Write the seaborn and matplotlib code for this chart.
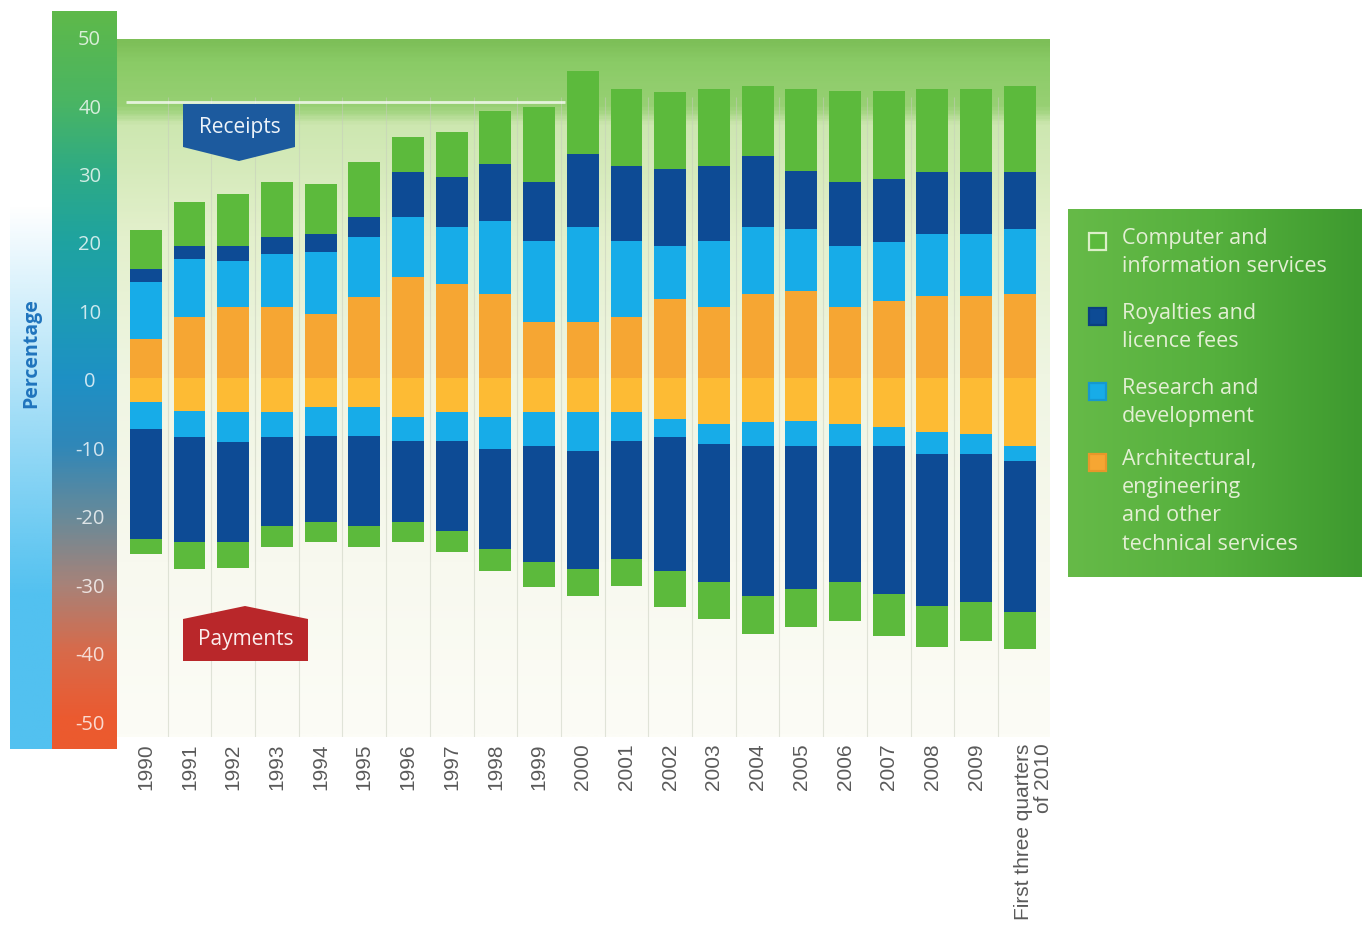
import numpy as np
import pandas as pd
import matplotlib
matplotlib.use('Agg')
import matplotlib.pyplot as plt
import matplotlib.transforms as mtransforms
import seaborn as sns
from matplotlib.colors import LinearSegmentedColormap, to_rgba
from matplotlib.patches import Polygon, Rectangle

# ---- data (percent of total) ----
years = ['1990', '1991', '1992', '1993', '1994', '1995', '1996', '1997', '1998', '1999',
         '2000', '2001', '2002', '2003', '2004', '2005', '2006', '2007', '2008', '2009',
         'First three quarters\nof 2010']

# receipts, stacked upwards
rec_arch = [5.7, 8.9, 10.4, 10.4, 9.3, 11.8, 14.7, 13.7, 12.3, 8.2, 8.2,
            8.9, 11.5, 10.4, 12.3, 12.7, 10.4, 11.2, 12.0, 12.0, 12.3]
rec_rd = [8.3, 8.5, 6.7, 7.7, 9.1, 8.8, 8.8, 8.3, 10.6, 11.8, 13.8,
          11.1, 7.8, 9.6, 9.7, 9.1, 8.9, 8.7, 9.0, 9.0, 9.5]
rec_roy = [1.9, 1.9, 2.2, 2.5, 2.6, 2.9, 6.6, 7.3, 8.3, 8.6, 10.7,
           10.9, 11.2, 10.9, 10.4, 8.4, 9.3, 9.2, 9.1, 9.1, 8.3]
rec_comp = [5.7, 6.4, 7.6, 8.0, 7.3, 8.0, 5.1, 6.6, 7.8, 11.0, 12.1,
            11.3, 11.3, 11.3, 10.2, 12.0, 13.3, 12.8, 12.1, 12.1, 12.5]

# payments, stacked downwards
pay_arch = [3.5, 4.8, 5.0, 5.0, 4.2, 4.2, 5.7, 5.0, 5.7, 5.0, 5.0,
            5.0, 6.0, 6.7, 6.4, 6.3, 6.7, 7.2, 7.9, 8.2, 9.9]
pay_rd = [3.9, 3.8, 4.3, 3.6, 4.3, 4.3, 3.5, 4.2, 4.7, 4.9, 5.7,
          4.2, 2.6, 2.9, 3.5, 3.6, 3.2, 2.7, 3.2, 2.9, 2.2]
pay_roy = [16.1, 15.3, 14.6, 13.0, 12.5, 13.1, 11.8, 13.1, 14.6, 17.0, 17.2,
           17.2, 19.6, 20.2, 21.9, 20.9, 19.9, 21.6, 22.2, 21.6, 22.1]
pay_comp = [2.2, 4.0, 3.8, 3.1, 2.9, 3.1, 2.9, 3.1, 3.2, 3.6, 3.9,
            4.0, 5.2, 5.4, 5.6, 5.6, 5.7, 6.2, 6.0, 5.7, 5.4]

y_ticks = [50, 40, 30, 20, 10, 0, -10, -20, -30, -40, -50]

legend_labels = ['Computer and\ninformation services',
                 'Royalties and\nlicence fees',
                 'Research and\ndevelopment',
                 'Architectural,\nengineering\nand other\ntechnical services']

c_comp = '#5cba3c'
c_roy = '#0d4b95'
c_rd = '#17ace8'
c_arch = '#f6a633'
c_arch_neg = '#fdbb34'

df = pd.DataFrame({'year': years,
                   'rec_arch': rec_arch, 'rec_rd': rec_rd, 'rec_roy': rec_roy, 'rec_comp': rec_comp,
                   'pay_arch': pay_arch, 'pay_rd': pay_rd, 'pay_roy': pay_roy, 'pay_comp': pay_comp})

# cumulative tops so the layers can be overdrawn from the outside in
pos = df[['rec_arch', 'rec_rd', 'rec_roy', 'rec_comp']].cumsum(axis=1)
neg = -df[['pay_arch', 'pay_rd', 'pay_roy', 'pay_comp']].cumsum(axis=1)
for c in pos.columns:
    df['cum_' + c] = pos[c]
for c in neg.columns:
    df['cum_' + c] = neg[c]

W, H = 1368, 945
def fx(px):
    return px / W
def fy(py):
    return 1 - py / H

sns.set_theme(style='white')
plt.rcParams['font.family'] = ['Open Sans', 'DejaVu Sans']

fig = plt.figure(figsize=(W / 100, H / 100), dpi=100)
fig.patch.set_facecolor('white')

# ---- main plot ----
ax = fig.add_axes([fx(117), fy(738), (1050 - 117) / W, (738 - 40) / H])
ylo, yhi = -52.4, 49.5
xlo, xhi = -0.66, 20.69

# background gradient
bg = LinearSegmentedColormap.from_list('bg', [
    (0.0, '#fcfcf6'), (0.25, '#f8f9ef'), (0.52, '#eff5e2'), (0.72, '#e3f0cc'),
    (0.88, '#cde7b0'), (0.905, '#98d074'), (0.97, '#8acb66'), (1.0, '#7dbf58')])
grad = np.linspace(0, 1, 400).reshape(-1, 1)
ax.imshow(grad, cmap=bg, origin='lower', aspect='auto',
          extent=(xlo, xhi, ylo, yhi), zorder=0)

ax.vlines(np.arange(len(years) - 1) + 0.5, ylo, 41, color='#c6ccbc', lw=0.8, alpha=0.5, zorder=1)
ax.hlines(40.3, -0.45, 9.6, color='white', lw=2, alpha=0.75, zorder=1)

layers = [('cum_rec_comp', c_comp), ('cum_rec_roy', c_roy), ('cum_rec_rd', c_rd), ('cum_rec_arch', c_arch),
          ('cum_pay_comp', c_comp), ('cum_pay_roy', c_roy), ('cum_pay_rd', c_rd), ('cum_pay_arch', c_arch_neg)]
for col, colr in layers:
    sns.barplot(data=df, x='year', y=col, order=years, color=colr, saturation=1,
                width=0.73, errorbar=None, linewidth=0, ax=ax, zorder=2)

ax.set_xlim(xlo, xhi)
ax.set_ylim(ylo, yhi)
ax.set_xlabel('')
ax.set_ylabel('')
ax.set_yticks([])
ax.set_xticks(range(len(years)))
ax.set_xticklabels(years, rotation=90, fontsize=15, color='#5a5a5a',
                   family='Liberation Sans', multialignment='right', linespacing=1.05)
ax.tick_params(axis='x', length=0, pad=4)
# the two-line label sits a little right of its bar
last = ax.get_xticklabels()[-1]
last.set_transform(last.get_transform() + mtransforms.ScaledTranslation(0.14, 0, fig.dpi_scale_trans))
for s in ax.spines.values():
    s.set_visible(False)

# ---- coloured y scale strip ----
ax_s = fig.add_axes([fx(52), fy(750), 65 / W, (750 - 12) / H])
s_lo, s_hi = -54.2, 53.6
strip = LinearSegmentedColormap.from_list('strip', [
    (0.0, '#ec5a2e'), (0.04, '#eb5a30'), (0.13, '#d86a4a'), (0.22, '#a88278'),
    (0.31, '#6a8a98'), (0.41, '#3087b8'), (0.50, '#1e90c5'), (0.59, '#1c9bb5'),
    (0.69, '#1fa3a0'), (0.78, '#2daa86'), (0.88, '#4ab563'), (1.0, '#5eb94a')])
ax_s.imshow(grad, cmap=strip, origin='lower', aspect='auto', extent=(0, 1, s_lo, s_hi))
ax_s.set_xlim(0, 1)
ax_s.set_ylim(s_lo, s_hi)
for t in y_ticks:
    ax_s.text(0.58, t - 0.5, str(t), ha='center', va='center', fontsize=14.5,
              color='white', alpha=0.78)
ax_s.axis('off')

# outer light blue strip with the axis title
ax_p = fig.add_axes([fx(10), fy(750), 42 / W, (750 - 12) / H])
blue = np.zeros((400, 1, 4))
blue[:, 0, :3] = to_rgba('#52c1f0')[:3]
blue[:, 0, 3] = np.clip(np.linspace(1.4, -0.5, 400), 0, 1)
ax_p.imshow(blue, origin='lower', aspect='auto', extent=(0, 1, 0, 1))
ax_p.set_xlim(0, 1)
ax_p.set_ylim(0, 1)
ax_p.axis('off')
fig.text(fx(31), fy(353), 'Percentage', rotation=90, ha='center', va='center',
         fontsize=14, fontweight='bold', color='#1f74bd')

# ---- banners ----
rec_poly = [(183, 105), (295, 105), (295, 148), (239, 162), (183, 148)]
pay_poly = [(183, 620), (245, 607), (308, 620), (308, 662), (183, 662)]
fig.patches.append(Polygon([(fx(x), fy(y)) for x, y in rec_poly], closed=True,
                           transform=fig.transFigure, facecolor='#1c5a9e', edgecolor='none', zorder=5))
fig.patches.append(Polygon([(fx(x), fy(y)) for x, y in pay_poly], closed=True,
                           transform=fig.transFigure, facecolor='#b9272a', edgecolor='none', zorder=5))
fig.text(fx(240), fy(128), 'Receipts', ha='center', va='center', fontsize=15, color='#eef4fa', zorder=6)
fig.text(fx(246), fy(640), 'Payments', ha='center', va='center', fontsize=15, color='#fbeeee', zorder=6)

# ---- legend panel ----
ax_l = fig.add_axes([fx(1068), fy(578), 294 / W, 368 / H])
lg = LinearSegmentedColormap.from_list('lg', ['#66ba48', '#55b03d', '#3e9a2f'])
ax_l.imshow(np.linspace(0, 1, 300).reshape(1, -1), cmap=lg, aspect='auto', extent=(0, 294, 368, 0))
ax_l.set_xlim(0, 294)
ax_l.set_ylim(368, 0)
ax_l.axis('off')
sq_y = [32, 107, 182, 253]
sq_fc = [c_comp, c_roy, c_rd, c_arch]
sq_ec = ['#dcefc8', '#0a3f80', '#1598d0', '#e8972a']
for yy, fc, ec, lab in zip(sq_y, sq_fc, sq_ec, legend_labels):
    ax_l.add_patch(Rectangle((21, yy - 8.5), 17, 17, facecolor=fc, edgecolor=ec, lw=1.6))
    ax_l.text(54, yy - 14, lab, ha='left', va='top', fontsize=15.5, color='#e3efd4',
              linespacing=1.45)

fig.savefig('out.png', dpi=100)
